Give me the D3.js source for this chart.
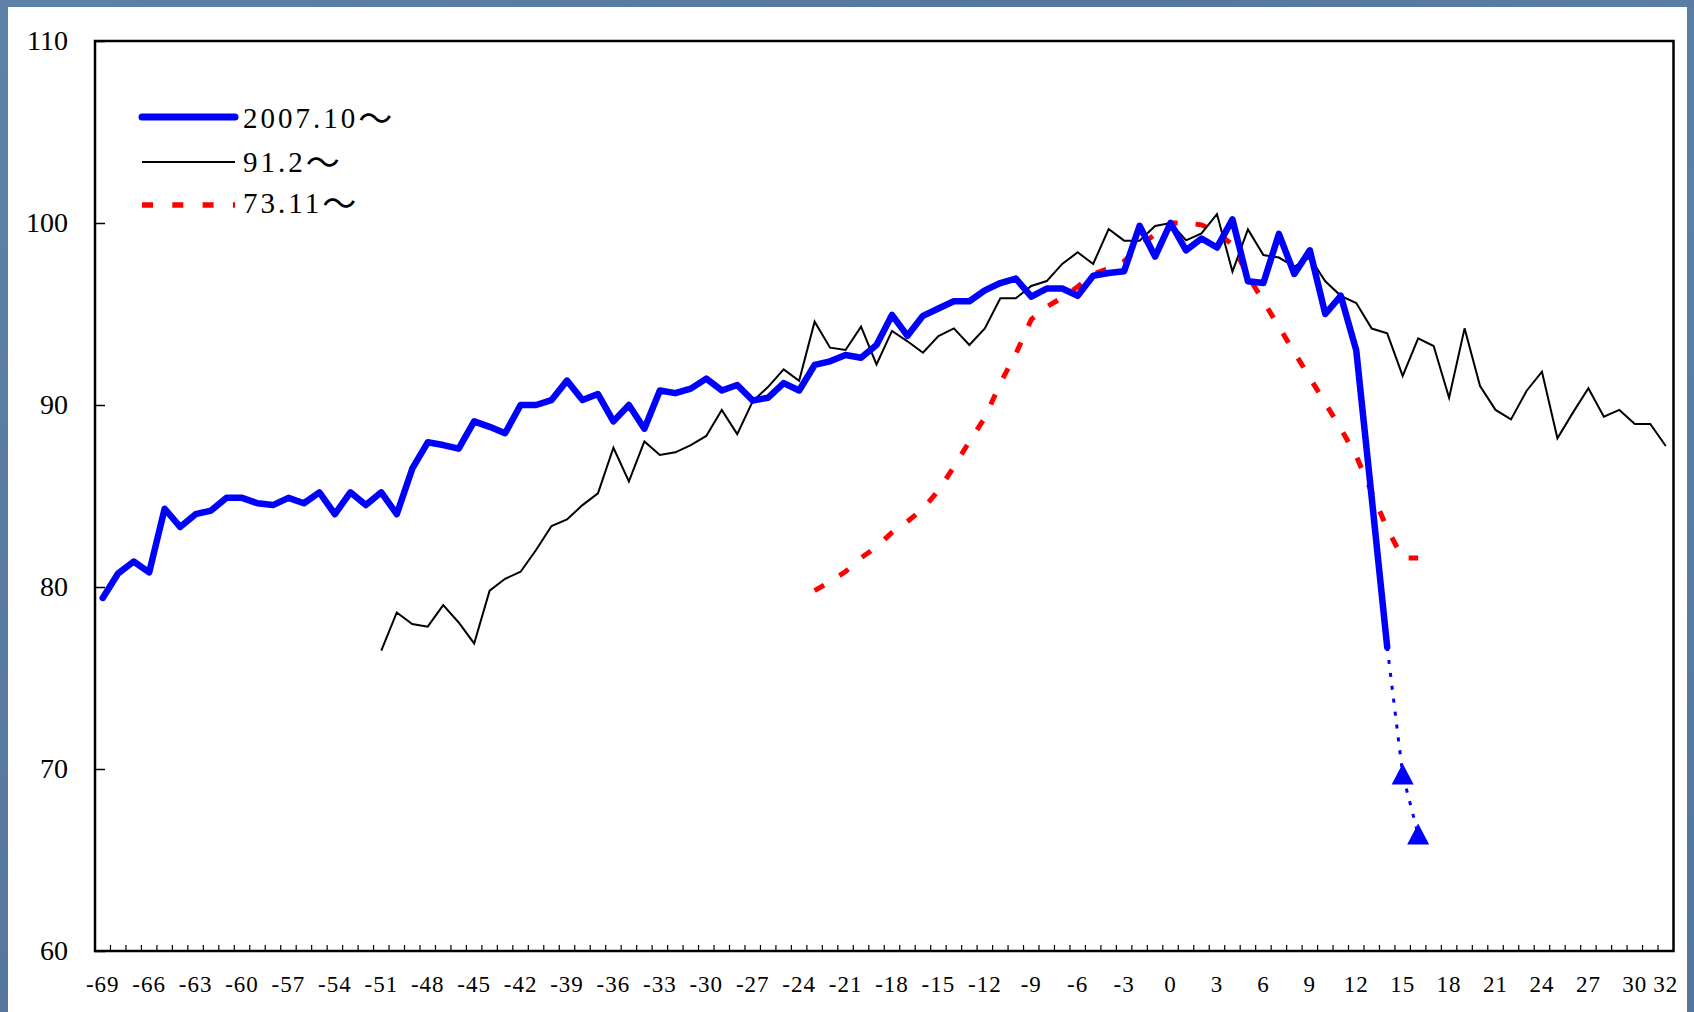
<!DOCTYPE html>
<html>
<head>
<meta charset="utf-8">
<script src="https://cdn.jsdelivr.net/npm/d3@7"></script>
<style>
  html, body { margin: 0; padding: 0; }
  body { width: 1694px; height: 1012px; overflow: hidden;
         background: linear-gradient(135deg, #5f80a8 0%, #5676a0 40%, #5d7ea6 70%, #55759d 100%); }
  svg { display: block; }
  text { font-family: "Liberation Serif", "DejaVu Serif", serif; fill: #000; }
</style>
</head>
<body>
<svg id="chart" width="1694" height="1012"></svg>
<script>
// ---- data ----
const categories = d3.range(-69, 33);               // -69 .. 32
const xTickLabels = d3.range(-69, 31, 3).concat([32]);
const yTickValues = [60, 70, 80, 90, 100, 110];

const seriesNames = ["2007.10～", "91.2～", "73.11～"];

// 2007.10～ (starts at -69)
const blueStart = -69;
const blueValues = [
  79.4, 80.75, 81.4, 80.8, 84.3, 83.3, 84.0, 84.2, 84.9, 84.9,
  84.6, 84.5, 84.9, 84.6, 85.2, 84.0, 85.2, 84.5, 85.2, 84.0,
  86.5, 87.95, 87.8, 87.6, 89.1, 88.8, 88.45, 90.0, 90.0, 90.27,
  91.34, 90.27, 90.6, 89.1, 90.0, 88.7, 90.8, 90.65, 90.9, 91.45,
  90.8, 91.1, 90.25, 90.4, 91.2, 90.8, 92.2, 92.4, 92.75, 92.6,
  93.3, 94.95, 93.8, 94.9, 95.3, 95.7, 95.7, 96.3, 96.7, 96.95,
  95.95, 96.4, 96.4, 96.0, 97.1, 97.25, 97.35, 99.85, 98.15, 100.0,
  98.5, 99.15, 98.65, 100.2, 96.8, 96.7, 99.4, 97.2, 98.5, 95.0,
  96.0, 93.0, 84.9, 76.7
];
// projection (dotted, triangle markers) from 14 to 16
const forecastCats = [14, 15, 16];
const forecastValues = [76.7, 69.7, 66.4];

// 91.2～ (starts at -51)
const blackStart = -51;
const blackValues = [
  76.5, 78.6, 77.97, 77.82, 79.0, 78.05, 76.9, 79.8, 80.45, 80.84,
  82.03, 83.35, 83.71, 84.5, 85.15, 87.65, 85.8, 88.0, 87.25, 87.4,
  87.8, 88.3, 89.73, 88.4, 90.2, 91.0, 91.96, 91.33, 94.58, 93.15,
  93.02, 94.3, 92.23, 94.07, 93.5, 92.87, 93.79, 94.21, 93.3, 94.21,
  95.86, 95.86, 96.54, 96.81, 97.75, 98.39, 97.75, 99.67, 99.03, 99.03,
  99.84, 100.0, 99.05, 99.43, 100.49, 97.33, 99.65, 98.24, 98.1, 97.6,
  98.1, 96.8, 96.0, 95.6, 94.2, 93.94, 91.6, 93.66, 93.24, 90.4,
  94.21, 91.04, 89.73, 89.21, 90.77, 91.83, 88.17, 89.58, 90.92, 89.36,
  89.73, 88.96, 88.96, 87.75
];

// 73.11～ (starts at -23)
const redStart = -23;
const redValues = [
  79.8, 80.3, 80.85, 81.6, 82.2, 83.0, 83.6, 84.3, 85.3, 86.6,
  88.0, 89.3, 91.2, 92.8, 94.7, 95.4, 95.9, 96.5, 97.2, 97.5,
  97.9, 98.7, 99.4, 100.0, 100.0, 99.9, 99.5, 98.8, 97.1, 95.7,
  94.3, 92.9, 91.5, 90.1, 88.7, 87.2, 85.2, 83.2, 81.6, 81.6
];

// ---- layout ----
const svg = d3.select("#chart");
const plot = { left: 95, right: 1673.5, top: 41, bottom: 951 };

svg.append("rect").attr("x", 8).attr("y", 7).attr("width", 1679).attr("height", 1010)
  .attr("fill", "#ffffff");

const x = d3.scaleBand().domain(categories).range([plot.left, plot.right]).paddingInner(0).paddingOuter(0);
const cx = c => x(c) + x.bandwidth() / 2;
const y = d3.scaleLinear().domain([60, 110]).range([plot.bottom, plot.top]);

const toPts = (start, vals) => vals.map((v, i) => ({ c: start + i, v }));
const line = d3.line().x(d => cx(d.c)).y(d => y(d.v));

// plot border
svg.append("rect")
  .attr("x", plot.left).attr("y", plot.top)
  .attr("width", plot.right - plot.left).attr("height", plot.bottom - plot.top)
  .attr("fill", "none").attr("stroke", "#000").attr("stroke-width", 2.5);

// y axis
const yAxis = d3.axisLeft(y).tickValues(yTickValues).tickSize(-10).tickPadding(27).tickFormat(d3.format("d"));
const gy = svg.append("g").attr("transform", `translate(${plot.left},0)`).call(yAxis);
gy.select(".domain").remove();
gy.selectAll(".tick line").attr("stroke", "#000").attr("stroke-width", 1.5);
gy.selectAll(".tick text").attr("font-size", 28).attr("font-family", "Liberation Serif, serif").attr("fill", "#000");

// x axis labels (centered on categories)
const xAxis = d3.axisBottom(x).tickValues(xTickLabels).tickSize(0).tickPadding(25)
  .tickFormat(d => d < 0 ? "-" + Math.abs(d) : String(d));
const gx = svg.append("g").attr("transform", `translate(0,${plot.bottom})`).call(xAxis);
gx.select(".domain").remove();
gx.selectAll(".tick text").attr("font-size", 23).attr("font-family", "Liberation Serif, serif")
  .attr("fill", "#000").attr("letter-spacing", 1);

// x minor ticks at category boundaries
const boundaries = categories.slice(1);
svg.append("g").selectAll("line").data(boundaries).join("line")
  .attr("x1", d => x(d)).attr("x2", d => x(d))
  .attr("y1", plot.bottom).attr("y2", plot.bottom - 6)
  .attr("stroke", "#000").attr("stroke-width", 1.2);

// series
svg.append("path").datum(toPts(redStart, redValues)).attr("d", line)
  .attr("fill", "none").attr("stroke", "#ff0000").attr("stroke-width", 5)
  .attr("stroke-dasharray", "11,18");

svg.append("path").datum(toPts(blackStart, blackValues)).attr("d", line)
  .attr("fill", "none").attr("stroke", "#000").attr("stroke-width", 2)
  .attr("stroke-linejoin", "miter");

svg.append("path").datum(toPts(blueStart, blueValues)).attr("d", line)
  .attr("fill", "none").attr("stroke", "#0000ff").attr("stroke-width", 6.5)
  .attr("stroke-linejoin", "round").attr("stroke-linecap", "round");

const fc = forecastCats.map((c, i) => ({ c, v: forecastValues[i] }));
svg.append("path").datum(fc).attr("d", line)
  .attr("fill", "none").attr("stroke", "#0000ff").attr("stroke-width", 3)
  .attr("stroke-dasharray", "4,9");

svg.append("g").selectAll("path").data(fc.slice(1)).join("path")
  .attr("d", d => {
    const px = cx(d.c), py = y(d.v);
    return `M${px},${py - 11}L${px + 11},${py + 10}L${px - 11},${py + 10}Z`;
  })
  .attr("fill", "#0000ff");

// legend
const legend = svg.append("g");
const legendRows = [
  { name: seriesNames[0], ly: 117, ty: 128, color: "#0000ff", w: 7, dash: null, cap: "round" },
  { name: seriesNames[1], ly: 162, ty: 172, color: "#000000", w: 2, dash: null, cap: "butt" },
  { name: seriesNames[2], ly: 205, ty: 213, color: "#ff0000", w: 5.5, dash: "11,19.3", cap: "butt" }
];
legendRows.forEach(r => {
  legend.append("line").attr("x1", 142).attr("x2", 235).attr("y1", r.ly).attr("y2", r.ly)
    .attr("stroke", r.color).attr("stroke-width", r.w).attr("stroke-linecap", r.cap)
    .attr("stroke-dasharray", r.dash);
  const t = legend.append("text").attr("x", 243).attr("y", r.ty).attr("font-size", 29);
  t.append("tspan").attr("letter-spacing", 3).text(r.name.slice(0, -1));
  t.append("tspan").attr("font-family", "DejaVu Sans, Noto Sans CJK JP, sans-serif")
    .attr("font-size", 34).attr("dy", 3).text(r.name.slice(-1));
});
</script>
</body>
</html>
